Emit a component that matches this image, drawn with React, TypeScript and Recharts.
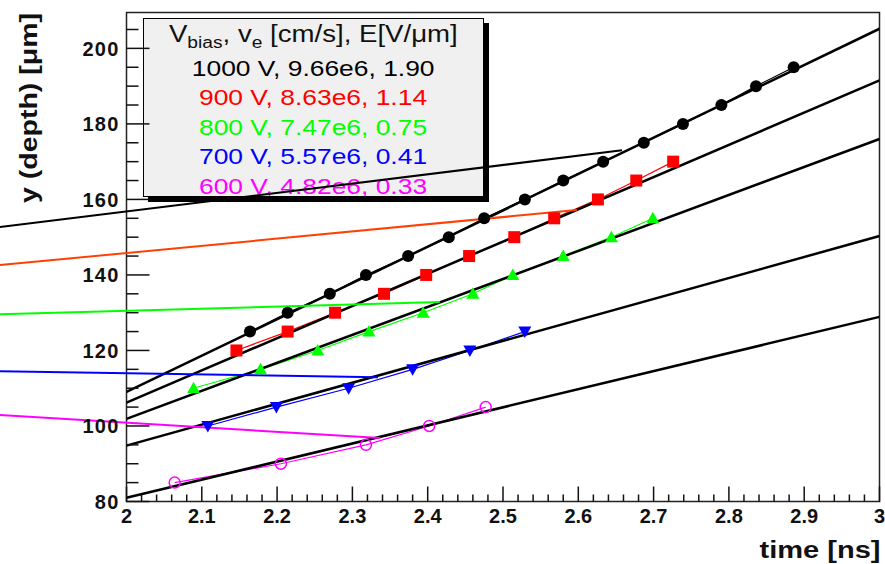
import React from "react";
import {
  ComposedChart,
  Line,
  XAxis,
  YAxis,
  ReferenceLine,
  ReferenceArea,
} from "recharts";

const time1000 = [2.164, 2.214, 2.27, 2.318, 2.374, 2.428, 2.475, 2.529, 2.58, 2.633, 2.687, 2.739, 2.79, 2.836, 2.886];
const depth1000 = [125, 130, 135, 140, 145, 150, 155, 160, 165, 170, 175, 180, 185, 190, 195];
const time900 = [2.146, 2.214, 2.277, 2.342, 2.398, 2.455, 2.515, 2.568, 2.626, 2.677, 2.726];
const depth900 = [120, 125, 130, 135, 140, 145, 150, 155, 160, 165, 170];
const time800 = [2.089, 2.178, 2.254, 2.322, 2.394, 2.46, 2.513, 2.58, 2.644, 2.699];
const depth800 = [110, 115, 120, 125, 130, 135, 140, 145, 150, 155];
const time700 = [2.108, 2.199, 2.295, 2.38, 2.456, 2.529];
const depth700 = [100, 105, 110, 115, 120, 125];
const time600 = [2.064, 2.205, 2.318, 2.402, 2.477];
const depth600 = [85, 90, 95, 100, 105];

// straight-line fits, value at t = 2 ns and t = 3 ns
const fitTimes = [2, 3];
const fit1000 = [109.0, 205.2];
const fit900 = [106.2, 191.5];
const fit800 = [101.9, 176.0];
const fit700 = [94.8, 150.3];
const fit600 = [81.0, 128.9];

// pointer lines drawn from the left page edge onto each fit
const pointerColors = ["#000000", "#ff4000", "#00ff00", "#0000ff", "#ff00ff"];
const pointerFrom = [
  [1.832, 152.7],
  [1.832, 142.6],
  [1.832, 129.6],
  [1.832, 114.5],
  [1.832, 102.9],
];
const pointerTo = [
  [2.658, 173.0],
  [2.598, 157.2],
  [2.416, 132.8],
  [2.334, 112.9],
  [2.337, 96.8],
];

// legend text
const voltages = ["1000 V", "900 V", "800 V", "700 V", "600 V"];
const velocities = ["9.66e6", "8.63e6", "7.47e6", "5.57e6", "4.82e6"];
const fields = ["1.90", "1.14", "0.75", "0.41", "0.33"];
const colors = ["#000000", "#ff0000", "#00ff00", "#0000ff", "#ff00ff"];

const xMajor = [2, 2.1, 2.2, 2.3, 2.4, 2.5, 2.6, 2.7, 2.8, 2.9, 3];
const yMajor = [80, 100, 120, 140, 160, 180, 200];
const yTop = 209.5;

const FONT = "'Liberation Sans', Arial, Helvetica, sans-serif";

// subdivide the major ticks: 5 steps on x, 4 on y
function subdivide(majors: number[], n: number, last?: number): number[] {
  const out: number[] = [];
  for (let i = 0; i < majors.length; i++) {
    const a = majors[i];
    const b = i + 1 < majors.length ? majors[i + 1] : last;
    out.push(a);
    if (b === undefined) continue;
    for (let k = 1; k < n; k++) {
      out.push(+(a + ((b - a) * k) / n).toFixed(4));
    }
  }
  return out;
}

const xTicks = subdivide(xMajor, 5);
const yTicks = subdivide(yMajor, 4, 220).filter((v) => v <= yTop);

const isMajor = (v: number, majors: number[]) => majors.some((m) => Math.abs(m - v) < 1e-6);

const toPoints = (t: number[], y: number[]) => t.map((tt, i) => ({ t: tt, v: y[i] }));

type Marker = "circle" | "square" | "up" | "down" | "open";

const series: { key: string; t: number[]; y: number[]; fit: number[]; color: string; marker: Marker }[] = [
  { key: "1000", t: time1000, y: depth1000, fit: fit1000, color: colors[0], marker: "circle" },
  { key: "900", t: time900, y: depth900, fit: fit900, color: colors[1], marker: "square" },
  { key: "800", t: time800, y: depth800, fit: fit800, color: colors[2], marker: "up" },
  { key: "700", t: time700, y: depth700, fit: fit700, color: colors[3], marker: "down" },
  { key: "600", t: time600, y: depth600, fit: fit600, color: colors[4], marker: "open" },
];

function markerDot(marker: Marker, color: string) {
  return (p: any) => {
    const { cx, cy, index } = p;
    if (cx == null || cy == null) return <g key={index} />;
    switch (marker) {
      case "circle":
        return <circle key={index} cx={cx} cy={cy} r={6} fill={color} />;
      case "square":
        return <rect key={index} x={cx - 6} y={cy - 6} width={12} height={12} fill={color} />;
      case "up":
        return <polygon key={index} points={`${cx - 6.5},${cy + 5} ${cx + 6.5},${cy + 5} ${cx},${cy - 6.5}`} fill={color} />;
      case "down":
        return <polygon key={index} points={`${cx - 6.5},${cy - 5} ${cx + 6.5},${cy - 5} ${cx},${cy + 6.5}`} fill={color} />;
      default:
        return <circle key={index} cx={cx} cy={cy} r={5.5} fill="none" stroke={color} strokeWidth={1.5} />;
    }
  };
}

const XTick = (props: any) => {
  const { x, y, payload } = props;
  const major = isMajor(payload.value, xMajor);
  return (
    <g>
      <line x1={x} y1={y} x2={x} y2={y - (major ? 15 : 7)} stroke="#111" strokeWidth={1.5} />
      {major && (
        <text x={x} y={y + 21} textAnchor="middle" fontFamily={FONT} fontWeight="bold" fontSize={20} fill="#111">
          {String(payload.value)}
        </text>
      )}
    </g>
  );
};

const YTick = (props: any) => {
  const { x, y, payload } = props;
  const major = isMajor(payload.value, yMajor);
  return (
    <g>
      <line x1={x} y1={y} x2={x + (major ? 23 : 12)} y2={y} stroke="#111" strokeWidth={1.5} />
      {major && (
        <text x={x - 7} y={y} dy="0.36em" textAnchor="end" fontFamily={FONT} fontWeight="bold" fontSize={20} letterSpacing={1.2} fill="#111">
          {String(payload.value)}
        </text>
      )}
    </g>
  );
};

function LegendBox() {
  return (
    <div
      style={{
        position: "absolute",
        left: 143,
        top: 18,
        width: 339,
        height: 177,
        background: "#f0f0f0",
        border: "1.5px solid #000",
        boxShadow: "5px 5px 0 #000",
        fontFamily: FONT,
        zIndex: 0,
        overflow: "hidden",
      }}
    >
      <div style={{ position: "absolute", left: 0, right: 0, top: 4, textAlign: "center", fontSize: 23, lineHeight: "23px", color: "#111" }}>
        <span style={{ display: "inline-block", transform: "scaleX(1.2)" }}>
          V<sub style={{ fontSize: 16 }}>bias</sub>, v<sub style={{ fontSize: 16 }}>e</sub> [cm/s], E[V/μm]
        </span>
      </div>
      {voltages.map((v, i) => (
        <div
          key={v}
          style={{
            position: "absolute",
            left: 0,
            right: 0,
            top: 38.5 + i * 29.5,
            textAlign: "center",
            fontSize: 22,
            lineHeight: "22px",
            color: colors[i],
          }}
        >
          <span style={{ display: "inline-block", transform: "scaleX(1.2)" }}>
            {v}, {velocities[i]}, {fields[i]}
          </span>
        </div>
      ))}
    </div>
  );
}

export default function App() {
  return (
    <div style={{ position: "absolute", left: 0, top: 0, width: 885, height: 564, background: "#fff" }}>
      <LegendBox />
      <div style={{ position: "absolute", left: 0, top: 0, zIndex: 1 }}>
        <ComposedChart width={885} height={564} margin={{ top: 12.5, right: 5.5, bottom: 32.5, left: 66.5 }}>
          <XAxis
            type="number"
            dataKey="t"
            domain={[2, 3]}
            allowDataOverflow
            ticks={xTicks}
            interval={0}
            tick={XTick}
            tickLine={false}
            axisLine={false}
            tickSize={0}
            tickMargin={0}
            height={30}
            label={(p: any) => {
              const vb = p.viewBox;
              return (
                <text
                  x={vb.x + vb.width + 1}
                  y={vb.y + 56}
                  textAnchor="end"
                  fontFamily={FONT}
                  fontWeight="bold"
                  fontSize={23}
                  textLength={121}
                  lengthAdjust="spacingAndGlyphs"
                  fill="#111"
                >
                  time [ns]
                </text>
              );
            }}
          />
          <YAxis
            type="number"
            dataKey="v"
            domain={[80, yTop]}
            allowDataOverflow
            ticks={yTicks}
            interval={0}
            tick={YTick}
            tickLine={false}
            axisLine={false}
            tickSize={0}
            tickMargin={0}
            width={60}
            label={(p: any) => {
              const vb = p.viewBox;
              const tx = vb.x - 29.5;
              const ty = vb.y + 0.5;
              return (
                <text
                  x={tx}
                  y={ty}
                  transform={`rotate(-90 ${tx} ${ty})`}
                  textAnchor="end"
                  fontFamily={FONT}
                  fontWeight="bold"
                  fontSize={23}
                  textLength={190}
                  lengthAdjust="spacingAndGlyphs"
                  fill="#111"
                >
                  y (depth) [μm]
                </text>
              );
            }}
          />
          <ReferenceArea x1={2} x2={3} y1={80} y2={yTop} fill="none" stroke="#222" strokeWidth={1.5} />

          {series.map((s) => (
            <Line
              key={"pts" + s.key}
              data={toPoints(s.t, s.y)}
              dataKey="v"
              type="linear"
              stroke={s.color}
              strokeWidth={1.2}
              dot={markerDot(s.marker, s.color)}
              activeDot={false}
              isAnimationActive={false}
            />
          ))}
          {series.map((s) => (
            <Line
              key={"fit" + s.key}
              data={toPoints(fitTimes, s.fit)}
              dataKey="v"
              type="linear"
              stroke="#000"
              strokeWidth={2.5}
              dot={false}
              activeDot={false}
              isAnimationActive={false}
            />
          ))}
          {pointerColors.map((c, i) => (
            <ReferenceLine
              key={"ptr" + i}
              segment={[
                { x: pointerFrom[i][0], y: pointerFrom[i][1] },
                { x: pointerTo[i][0], y: pointerTo[i][1] },
              ]}
              ifOverflow="visible"
              stroke={c}
              strokeWidth={2}
            />
          ))}
        </ComposedChart>
      </div>
    </div>
  );
}
